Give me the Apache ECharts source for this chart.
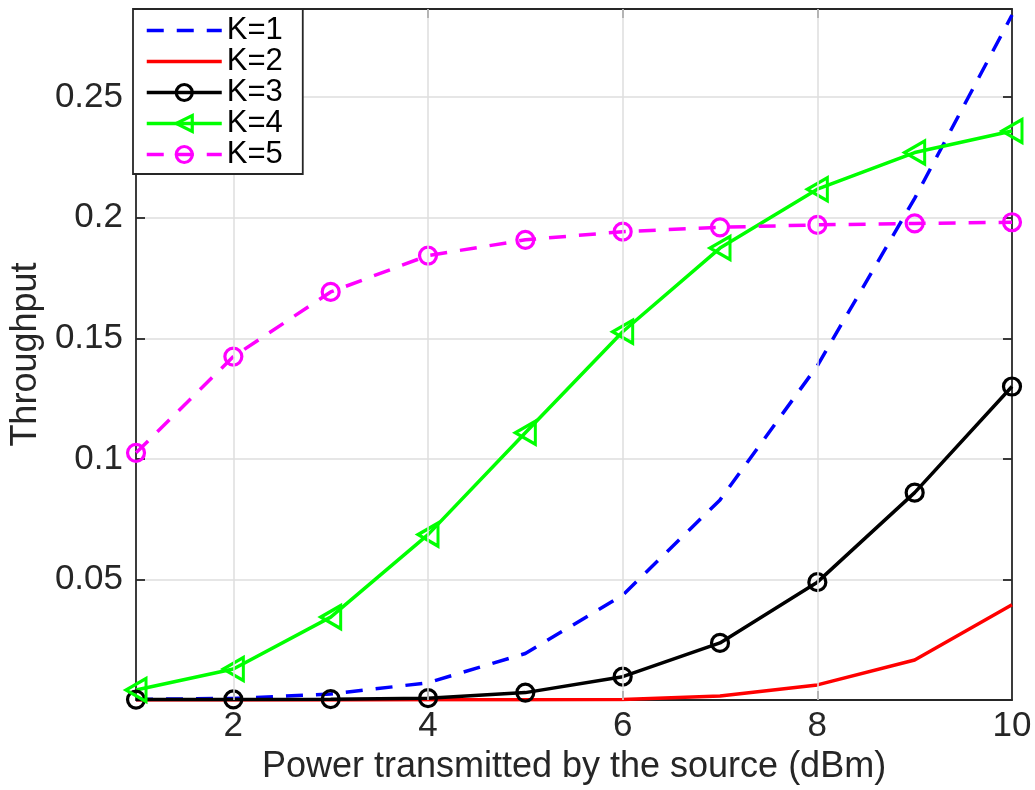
<!DOCTYPE html>
<html>
<head>
<meta charset="utf-8">
<script src="https://cdn.jsdelivr.net/npm/echarts@6/dist/echarts.min.js"></script>
<style>
html,body{margin:0;padding:0;background:#fff;}
#chart{width:1035px;height:790px;}
</style>
</head>
<body>
<div id="chart"></div>
<script>
// ---- data ----
const xValues = [1, 2, 3, 4, 5, 6, 7, 8, 9, 10];
const k1 = [0.0003, 0.0007, 0.0025, 0.0072, 0.0193, 0.0435, 0.0830, 0.1386, 0.2080, 0.2840];
const k2 = [0.0000, 0.0000, 0.0000, 0.0001, 0.0001, 0.0003, 0.0017, 0.0063, 0.0166, 0.0395];
const k3 = [0.0002, 0.0003, 0.0004, 0.0008, 0.0031, 0.0097, 0.0237, 0.0489, 0.0860, 0.1300];
const k4 = [0.0042, 0.0129, 0.0344, 0.0686, 0.1108, 0.1527, 0.1874, 0.2118, 0.2270, 0.2359];
const k5 = [0.1025, 0.1424, 0.1692, 0.1843, 0.1908, 0.1942, 0.1960, 0.1970, 0.1976, 0.1981];
const seriesNames = ['K=1', 'K=2', 'K=3', 'K=4', 'K=5'];
const xTicks = [2, 4, 6, 8, 10];
const xGrid = [2, 4, 6, 8];
const yTicks = [0.05, 0.1, 0.15, 0.2, 0.25];
const xLabel = 'Power transmitted by the source (dBm)';
const yLabel = 'Throughput';

const FONT = 'Liberation Sans';
const TXT = '#262626';
const pairs = arr => xValues.map((x, i) => [x, arr[i]]);

const chart = echarts.init(document.getElementById('chart'));
const dash = [17, 13];
const LW = 3.5;

const option = {
  animation: false,
  backgroundColor: '#fff',
  textStyle: { fontFamily: FONT },
  grid: { left: 133, top: 9, right: 23, bottom: 86, show: false },
  legend: {
    data: seriesNames.map((n, i) => i < 2 ? { name: n, itemStyle: { opacity: 0 } } : { name: n }),
    orient: 'vertical',
    left: 133, top: 9,
    padding: [6, 20, 4, 12],
    itemWidth: 75, itemHeight: 20, itemGap: 0,
    backgroundColor: '#fff',
    borderColor: TXT, borderWidth: 1.8,
    lineStyle: { width: LW },
    itemStyle: { borderWidth: 3.2 },
    textStyle: { fontFamily: FONT, fontSize: 31, color: '#000', lineHeight: 29 },
    z: 10
  },
  xAxis: [{
    type: 'value', min: 1, max: 10, position: 'bottom',
    name: xLabel, nameLocation: 'middle', nameGap: 40,
    nameTextStyle: { fontFamily: FONT, fontSize: 36, color: TXT },
    axisLine: { show: true, lineStyle: { color: TXT, width: 1.8 } },
    axisTick: { show: true, inside: true, length: 9, customValues: xGrid, lineStyle: { color: TXT, width: 1.8 } },
    axisLabel: { show: true, customValues: xTicks, margin: 9, fontFamily: FONT, fontSize: 35, color: TXT },
    splitLine: { show: false }
  }, {
    type: 'value', min: 1, max: 10, position: 'top',
    axisLine: { show: true, onZero: false, lineStyle: { color: TXT, width: 1.8 } },
    axisTick: { show: true, inside: true, length: 9, customValues: xGrid, lineStyle: { color: TXT, width: 1.8 } },
    axisLabel: { show: false },
    splitLine: { show: false }
  }],
  yAxis: [{
    type: 'value', min: 0, max: 0.2865, interval: 0.05, position: 'left',
    name: yLabel, nameLocation: 'middle', nameGap: 86,
    nameTextStyle: { fontFamily: FONT, fontSize: 36, color: TXT },
    axisLine: { show: true, lineStyle: { color: TXT, width: 1.8 } },
    axisTick: { show: true, inside: true, length: 9, customValues: yTicks, lineStyle: { color: TXT, width: 1.8 } },
    axisLabel: {
      show: true, customValues: yTicks, margin: 13, fontFamily: FONT, fontSize: 35, color: TXT,
      formatter: v => String(+(+v).toFixed(2))
    },
    splitLine: { show: true, lineStyle: { color: '#dedede', width: 1.5 } }
  }, {
    type: 'value', min: 0, max: 0.2865, interval: 0.05, position: 'right',
    axisLine: { show: true, onZero: false, lineStyle: { color: TXT, width: 1.8 } },
    axisTick: { show: true, inside: true, length: 9, customValues: yTicks, lineStyle: { color: TXT, width: 1.8 } },
    axisLabel: { show: false },
    splitLine: { show: false }
  }],
  series: [
    {
      name: '_grid', type: 'line', data: [], z: 1, silent: true,
      markLine: {
        silent: true, symbol: 'none', label: { show: false },
        lineStyle: { color: '#dedede', width: 1.5, type: 'solid' },
        data: xGrid.map(v => ({ xAxis: v })),
        animation: false
      }
    },
    {
      name: 'K=1', type: 'line', data: pairs(k1), symbol: 'none',
      color: '#0000ff',
      lineStyle: { color: '#0000ff', width: LW, type: dash }
    },
    {
      name: 'K=2', type: 'line', data: pairs(k2), symbol: 'none',
      color: '#ff0000',
      lineStyle: { color: '#ff0000', width: LW, type: 'solid' }
    },
    {
      name: 'K=3', type: 'line', data: pairs(k3), symbol: 'circle', symbolSize: 17,
      color: '#000000',
      lineStyle: { color: '#000000', width: LW },
      itemStyle: { color: 'rgba(0,0,0,0)', borderColor: '#000000', borderWidth: 3.2 }
    },
    {
      name: 'K=4', type: 'line', data: pairs(k4), symbol: 'triangle', symbolSize: [23, 20], symbolRotate: 90,
      color: '#00ff00',
      lineStyle: { color: '#00ff00', width: LW },
      itemStyle: { color: 'rgba(0,0,0,0)', borderColor: '#00ff00', borderWidth: 3.2 }
    },
    {
      name: 'K=5', type: 'line', data: pairs(k5), symbol: 'circle', symbolSize: 17,
      color: '#ff00ff',
      lineStyle: { color: '#ff00ff', width: LW, type: dash },
      itemStyle: { color: 'rgba(0,0,0,0)', borderColor: '#ff00ff', borderWidth: 3.2 }
    }
  ]
};
chart.setOption(option);
</script>
</body>
</html>
